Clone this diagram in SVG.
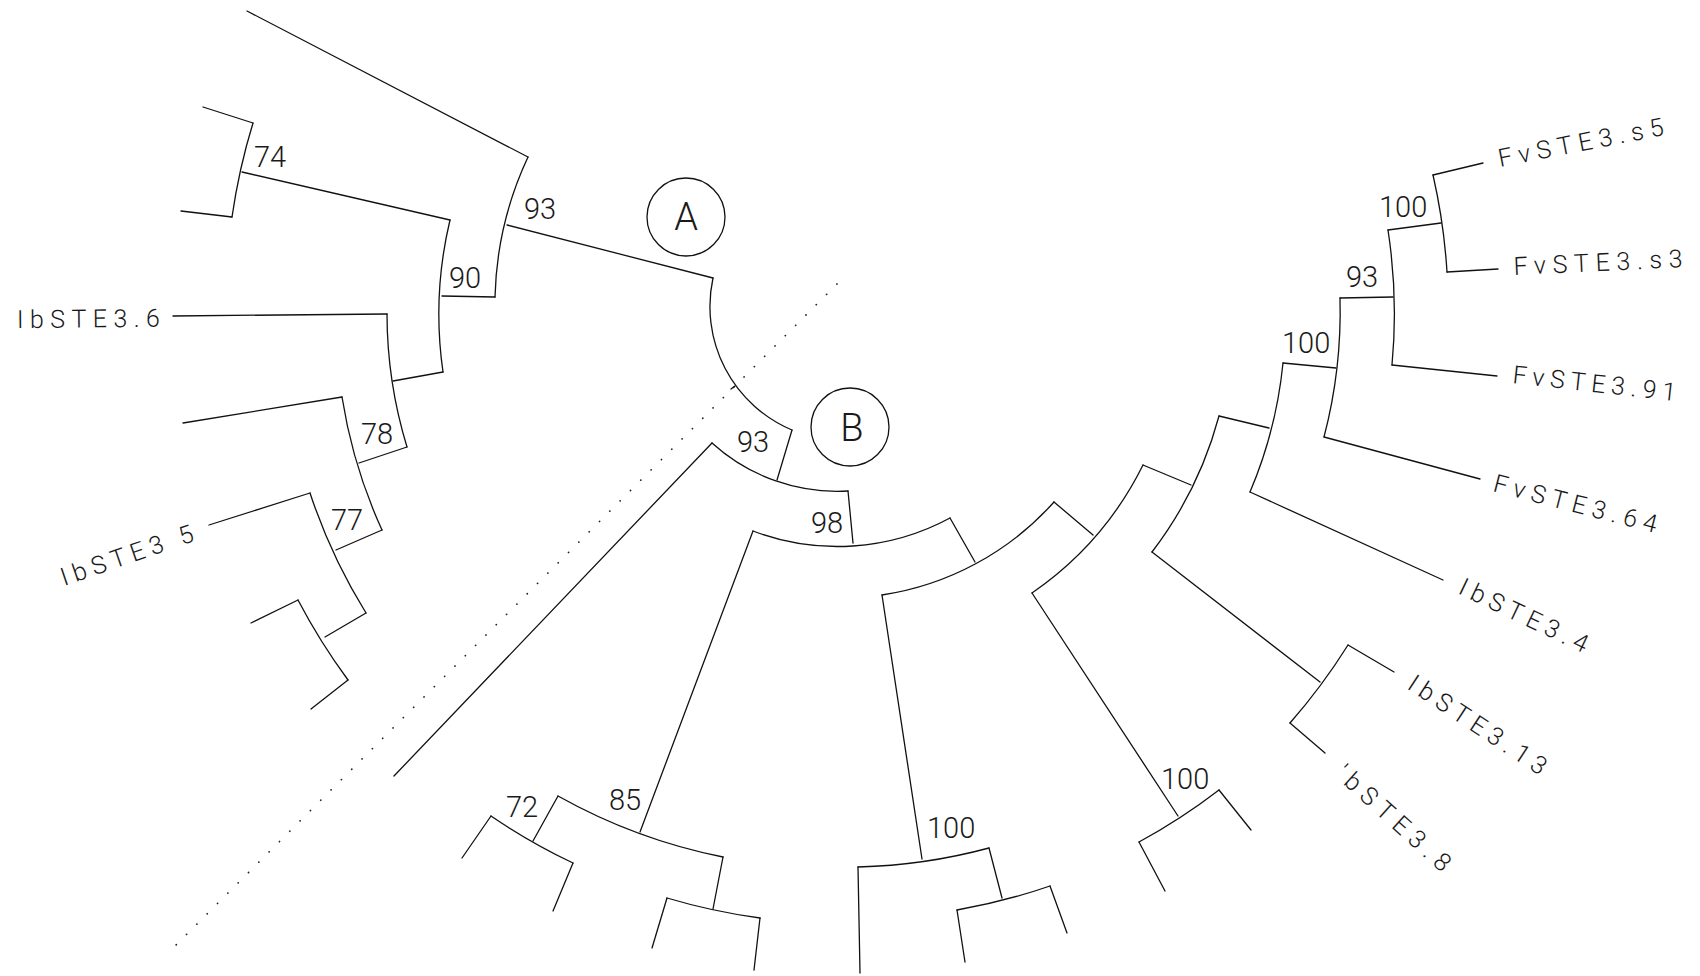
<svg xmlns="http://www.w3.org/2000/svg" width="1700" height="976" viewBox="0 0 1700 976">
  <style>
    .br { fill: none; stroke: #111; stroke-width: 1.3; stroke-linecap: round; stroke-linejoin: round; }
    .sep { fill: none; stroke: #222; stroke-width: 1.7; stroke-dasharray: 0.1 14.5; stroke-linecap: round; }
    .bs { font-family: Roboto, "Liberation Sans", sans-serif; font-weight: 300; font-size: 29px; fill: #1a1a1a; }
    .lab { font-family: Roboto, "Liberation Sans", sans-serif; font-weight: 300; font-size: 25px; fill: #1a1a1a; }
    .mark circle { fill: none; stroke: #111; stroke-width: 1.3; }
    .mark text { font-family: Roboto, "Liberation Sans", sans-serif; font-weight: 300; font-size: 38px; fill: #1a1a1a; text-anchor: middle; }
  </style>
  <rect width="1700" height="976" fill="#fff"/>

  <!-- separator between the two groups -->
  <line class="sep" x1="837" y1="284" x2="170" y2="951"/>

  <!-- radial branches (connectors) -->
  <g id="connectors" class="br">
    <path d="M247,11 L528,157"/>
    <path d="M507,225 L713,278"/>
    <path d="M442,296 L495,297"/>
    <path d="M242,172 L450,220"/>
    <path d="M253,123 L203,107"/>
    <path d="M232,217 L181,211"/>
    <path d="M443,372 L393,381"/>
    <path d="M387,314 L173,316"/>
    <path d="M407,447 L359,463"/>
    <path d="M342,397 L183,423"/>
    <path d="M382,530 L336,550"/>
    <path d="M310,493 L209,525"/>
    <path d="M366,613 L325,637"/>
    <path d="M298,600 L251,623"/>
    <path d="M348,680 L311,709"/>
    <path d="M735,386 L731,389"/>
    <path d="M792,430 L777,480"/>
    <path d="M712,443 L394,776"/>
    <path d="M848,491 L853,543"/>
    <path d="M753,531 L640,832"/>
    <path d="M558,796 L533,841"/>
    <path d="M491,816 L462,858"/>
    <path d="M573,863 L553,911"/>
    <path d="M723,857 L713,909"/>
    <path d="M667,898 L652,948"/>
    <path d="M760,918 L754,970"/>
    <path d="M950,518 L975,562"/>
    <path d="M882,595 L922,859"/>
    <path d="M858,867 L860,973"/>
    <path d="M989,848 L1002,898"/>
    <path d="M957,910 L965,962"/>
    <path d="M1050,886 L1067,933"/>
    <path d="M1054,502 L1093,535"/>
    <path d="M1032,593 L1178,816"/>
    <path d="M1139,842 L1165,891"/>
    <path d="M1219,790 L1251,830"/>
    <path d="M1143,465 L1191,485"/>
    <path d="M1152,552 L1320,682"/>
    <path d="M1348,645 L1394,672"/>
    <path d="M1290,723 L1325,753"/>
    <path d="M1219,416 L1269,428"/>
    <path d="M1250,492 L1443,580"/>
    <path d="M1283,363 L1336,368"/>
    <path d="M1324,437 L1480,479"/>
    <path d="M1340,298 L1393,297"/>
    <path d="M1392,365 L1497,376"/>
    <path d="M1388,230 L1441,223"/>
    <path d="M1433,175 L1483,163"/>
    <path d="M1447,272 L1498,269"/>
  </g>

  <!-- internal nodes: arcs with support values -->
  <g id="node-root"><path class="br" d="M713,278 A134,134 0 0 0 792,430"/></g>
  <g id="node-a93"><path class="br" d="M528,157 A350,350 0 0 0 495,297"/><text class="bs" x="524" y="219">93</text></g>
  <g id="node-a90"><path class="br" d="M450,220 A405,405 0 0 0 443,372"/><text class="bs" x="449" y="288">90</text></g>
  <g id="node-a74"><path class="br" d="M253,123 A620,620 0 0 0 232,217"/><text class="bs" x="254" y="167">74</text></g>
  <g id="node-a458"><path class="br" d="M387,314 A458,458 0 0 0 407,447"/></g>
  <g id="node-a78"><path class="br" d="M342,397 A511,511 0 0 0 382,530"/><text class="bs" x="361" y="444">78</text></g>
  <g id="node-a77"><path class="br" d="M310,493 A566,566 0 0 0 366,613"/><text class="bs" x="331" y="530">77</text></g>
  <g id="node-a620"><path class="br" d="M298,600 A619,619 0 0 0 348,680"/></g>

  <g id="node-b93"><path class="br" d="M712,443 A186,186 0 0 0 848,491"/><text class="bs" x="737" y="452">93</text></g>
  <g id="node-b98"><path class="br" d="M753,531 A237,237 0 0 0 950,518"/><text class="bs" x="811" y="533">98</text></g>
  <g id="node-b85"><path class="br" d="M558,796 A563,563 0 0 0 723,857"/><text class="bs" x="609" y="810">85</text></g>
  <g id="node-b72"><path class="br" d="M491,816 A618,618 0 0 0 573,863"/><text class="bs" x="506" y="817">72</text></g>
  <g id="node-b616"><path class="br" d="M667,898 A616,616 0 0 0 760,918"/></g>
  <g id="node-b288"><path class="br" d="M882,595 A288,288 0 0 0 1054,502"/></g>
  <g id="node-b100a"><path class="br" d="M858,867 A558,558 0 0 0 989,848"/><text class="bs" x="927" y="838">100</text></g>
  <g id="node-b612"><path class="br" d="M957,910 A612,612 0 0 0 1050,886"/></g>
  <g id="node-bx"><path class="br" d="M1032,593 A337,337 0 0 0 1143,465"/></g>
  <g id="node-b100b"><path class="br" d="M1139,842 A610,610 0 0 0 1219,790"/><text class="bs" x="1161" y="789">100</text></g>
  <g id="node-by"><path class="br" d="M1152,552 A390,390 0 0 0 1219,416"/></g>
  <g id="node-b605"><path class="br" d="M1348,645 A605,605 0 0 1 1290,723"/></g>
  <g id="node-bz"><path class="br" d="M1283,363 A441,441 0 0 1 1250,492"/></g>
  <g id="node-b100c"><path class="br" d="M1340,298 A495,495 0 0 1 1324,437"/><text class="bs" x="1282" y="353">100</text></g>
  <g id="node-b93r"><path class="br" d="M1388,230 A549,549 0 0 1 1392,365"/><text class="bs" x="1346" y="287">93</text></g>
  <g id="node-b100d"><path class="br" d="M1433,175 A603,603 0 0 1 1447,272"/><text class="bs" x="1379" y="217">100</text></g>

  <!-- clade markers -->
  <g id="clade-A" class="mark"><circle cx="686" cy="217" r="39"/><text x="686" y="230">A</text></g>
  <g id="clade-B" class="mark"><circle cx="850" cy="427" r="39"/><text x="852" y="441">B</text></g>

  <!-- leaf labels -->
  <g id="leaf-IbSTE3-6"><text class="lab" x="17" y="328" textLength="143" lengthAdjust="spacing" transform="rotate(-0.5 17 328)">IbSTE3.6</text></g>
  <g id="leaf-IbSTE3-5"><text class="lab" x="64" y="586" textLength="139" lengthAdjust="spacing" transform="rotate(-19 64 586)">IbSTE3 5</text></g>
  <g id="leaf-FvSTE3-s5"><text class="lab" x="1500" y="167" textLength="168" lengthAdjust="spacing" transform="rotate(-11 1500 167)">FvSTE3.s5</text></g>
  <g id="leaf-FvSTE3-s3"><text class="lab" x="1514" y="275" textLength="169" lengthAdjust="spacing" transform="rotate(-2.7 1514 275)">FvSTE3.s3</text></g>
  <g id="leaf-FvSTE3-91"><text class="lab" x="1512" y="383" textLength="164" lengthAdjust="spacing" transform="rotate(6.3 1512 383)">FvSTE3.91</text></g>
  <g id="leaf-FvSTE3-64"><text class="lab" x="1492" y="491" textLength="168" lengthAdjust="spacing" transform="rotate(14.5 1492 491)">FvSTE3.64</text></g>
  <g id="leaf-IbSTE3-4"><text class="lab" x="1457" y="593" textLength="140" lengthAdjust="spacing" transform="rotate(25.5 1457 593)">IbSTE3.4</text></g>
  <g id="leaf-IbSTE3-13"><text class="lab" x="1406" y="688" textLength="160" lengthAdjust="spacing" transform="rotate(33.3 1406 688)">IbSTE3.13</text></g>
  <g id="leaf-IbSTE3-8"><text class="lab" x="1334" y="776" textLength="145" lengthAdjust="spacing" transform="rotate(42 1334 776)">'bSTE3.8</text></g>
</svg>
